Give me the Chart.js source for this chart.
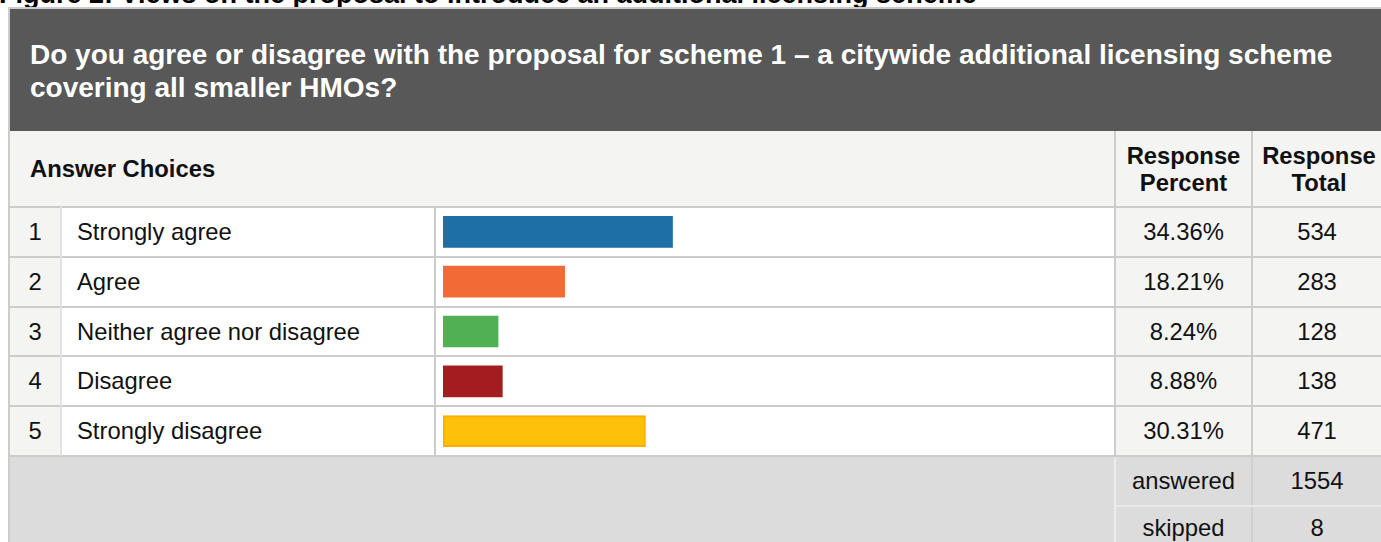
<!DOCTYPE html>
<html>
<head>
<meta charset="utf-8">
<script src="https://cdn.jsdelivr.net/npm/chart.js@4/dist/chart.umd.min.js"></script>
<style>
  body { margin: 0; width: 1381px; height: 542px; overflow: hidden; background: #fff;
         font-family: "Liberation Sans", Arial, sans-serif; color: #111; position: relative; }
  .abs { position: absolute; box-sizing: border-box; }
  .cell { display: flex; align-items: center; font-size: 23.8px; }
  .center { justify-content: center; }
  .line { background: #cccccc; }
</style>
</head>
<body>

<div class="abs" style="left:-1px;top:-19px;font-size:27px;line-height:27px;font-weight:bold;white-space:nowrap;color:#000">Figure 2: Views on the proposal to introduce an additional licensing scheme</div>

<!-- outer borders -->
<div class="abs line" style="left:8px;top:7px;width:1373px;height:2px"></div>
<div class="abs line" style="left:8px;top:7px;width:2px;height:535px"></div>

<!-- question header -->
<div class="abs" style="left:10px;top:9px;width:1371px;height:122px;background:#575857"></div>
<div class="abs" style="left:30px;top:38px;width:1345px;font-size:28px;line-height:33px;font-weight:bold;color:#fff">Do you agree or disagree with the proposal for scheme 1 – a citywide additional licensing scheme covering all smaller HMOs?</div>

<div id="table"></div>

<canvas id="bars" class="abs" width="678" height="249" style="left:436px;top:207px;width:678px;height:249px"></canvas>

<script>
// Survey data
const choices = ['Strongly agree', 'Agree', 'Neither agree nor disagree', 'Disagree', 'Strongly disagree'];
const percents = [34.36, 18.21, 8.24, 8.88, 30.31];
const totals = [534, 283, 128, 138, 471];
const answered = 1554;
const skipped = 8;

const barColors = ['#1d6fa5', '#f26a35', '#4fb153', '#a31d20', '#fec00a'];
const barBorders = ['#1d6fa5', '#f26a35', '#4fb153', '#a31d20', '#ffab00'];
const barBorderWidths = [0, 0, 0, 0, 2];

// Build the table around the chart
function box(left, top, width, height, style, html, cls) {
  const d = document.createElement('div');
  d.className = 'abs ' + (cls || '');
  d.style.cssText = `left:${left}px;top:${top}px;width:${width}px;height:${height}px;${style || ''}`;
  if (html !== undefined) d.innerHTML = html;
  document.getElementById('table').appendChild(d);
  return d;
}

function buildTable() {
  const grey = '#f4f4f3';
  // header row
  box(10, 131, 1104, 76, 'background:' + grey);
  box(1116, 131, 135, 76, 'background:' + grey);
  box(1253, 131, 128, 76, 'background:' + grey);
  box(30, 131, 400, 76, 'font-weight:bold', 'Answer Choices', 'cell');
  box(1116, 131, 135, 76, 'font-weight:bold;text-align:center;line-height:27px',
      'Response<br>Percent', 'cell center');
  box(1253, 131, 128, 76, 'font-weight:bold;text-align:center;line-height:27px;padding-left:4px',
      'Response<br>Total', 'cell center');

  // answer rows
  const rowTop = i => Math.round(207 + i * 49.8);
  choices.forEach((c, i) => {
    const t = rowTop(i), h = rowTop(i + 1) - t;
    box(10, t, 50, h, 'background:' + grey, String(i + 1), 'cell center');
    box(62, t, 372, h, 'background:#fff;padding-left:15px', c, 'cell');
    box(436, t, 678, h, 'background:#fff');
    box(1116, t, 135, h, 'background:' + grey, percents[i].toFixed(2) + '%', 'cell center');
    box(1253, t, 128, h, 'background:' + grey, String(totals[i]), 'cell center');
    if (i > 0) box(10, t - 1, 1371, 2, '', undefined, 'line');
  });
  box(10, 206, 1371, 2, '', undefined, 'line');
  box(10, 455, 1371, 2, '', undefined, 'line');

  // vertical lines
  box(60, 207, 2, 249, 'background:#e2e2e2');
  box(434, 207, 2, 249, '', undefined, 'line');
  box(1114, 131, 2, 326, '', undefined, 'line');
  box(1251, 131, 2, 326, '', undefined, 'line');

  // footer
  box(10, 457, 1371, 85, 'background:#dcdcdc');
  box(1114, 457, 2, 85, 'background:#ececec');
  box(1251, 457, 2, 85, 'background:#d0d0d0');
  box(1116, 505, 265, 2, 'background:#e8e8e8');
  box(1116, 457, 135, 48, '', 'answered', 'cell center');
  box(1253, 457, 128, 48, '', String(answered), 'cell center');
  box(1116, 507, 135, 42, '', 'skipped', 'cell center');
  box(1253, 507, 128, 42, '', String(skipped), 'cell center');
}

buildTable();

const ctx = document.getElementById('bars').getContext('2d');
new Chart(ctx, {
  type: 'bar',
  data: {
    labels: choices,
    datasets: [{
      data: percents,
      backgroundColor: barColors,
      borderColor: barBorders,
      borderWidth: barBorderWidths,
      borderSkipped: false,
      barThickness: 31
    }]
  },
  options: {
    indexAxis: 'y',
    responsive: false,
    animation: false,
    layout: { padding: { left: 7, right: 3, top: 0, bottom: 0 } },
    plugins: {
      legend: { display: false },
      tooltip: { enabled: false }
    },
    scales: {
      x: { min: 0, max: 100, display: false },
      y: { display: false, offset: true }
    }
  }
});
</script>
</body>
</html>
